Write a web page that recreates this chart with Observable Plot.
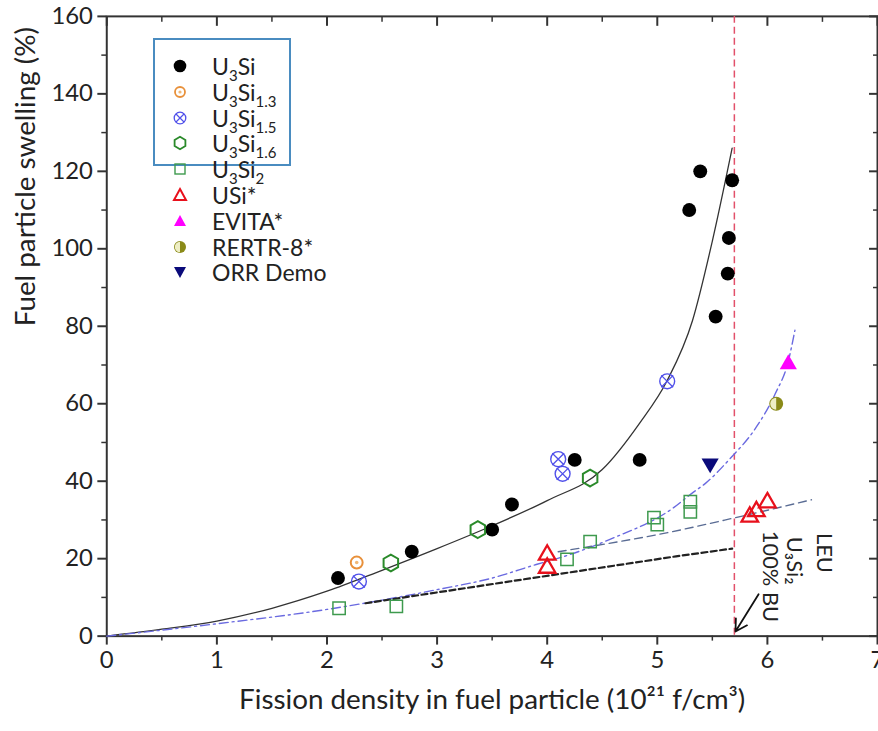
<!DOCTYPE html>
<html>
<head>
<meta charset="utf-8">
<script src="https://cdn.jsdelivr.net/npm/d3@7"></script>
<script src="https://cdn.jsdelivr.net/npm/@observablehq/plot@0.6"></script>
<style>
  html, body { margin: 0; padding: 0; overflow: hidden; background: #fff; }
  #wrap { position: relative; width: 878px; height: 731px; overflow: hidden; font-family: Lato, "Open Sans", sans-serif; }
  #legbox { position: absolute; left: 153px; top: 38px; width: 134px; height: 124px; border: 2px solid #4a8cc0; }
  .leg { position: absolute; left: 170px; height: 26px; display: flex; align-items: center; font-size: 23px; color: #222; white-space: nowrap; }
  .leg svg { width: 20px; height: 20px; margin-right: 22px; }
  .leg sub { font-size: 15px; vertical-align: -6px; line-height: 0; }
</style>
</head>
<body>
<div id="wrap"></div>
<script>
// ---- data ----
const u3si   = [[2.1,15],[2.77,21.8],[3.5,27.5],[3.68,34],[4.25,45.5],[4.84,45.5],[5.53,82.5],[5.64,93.6],[5.65,102.8],[5.29,110],[5.39,120],[5.68,117.7]];
const u3si13 = [[2.27,19]];
const u3si15 = [[2.29,14.1],[4.1,45.7],[4.14,41.9],[5.09,65.8]];
const u3si16 = [[2.58,18.9],[3.37,27.5],[4.39,40.8]];
const u3si2  = [[2.11,7.2],[2.63,7.7],[4.18,19.8],[4.39,24.4],[4.97,30.6],[5.0,28.8],[5.3,34.7],[5.3,32.1]];
const usi    = [[4.0,21],[4.0,17.6],[5.84,30.8],[5.9,32.2],[6.0,34.5]];
const evita  = [[6.19,70.2]];
const rertr8 = [[6.08,60]];
const orr    = [[5.48,44.6]];

const fitU3Si  = [[0,0],[0.5,1.8],[1,3.9],[1.5,7.2],[2,11.6],[2.5,17],[3,22.6],[3.5,28.5],[4,35],[4.5,43],[4.84,55],[5.09,66],[5.32,81.5],[5.5,102],[5.68,126]];
const fitDashDot = [[0,0],[1,3.2],[2,6.9],[2.5,9.3],[3,12],[3.5,15],[3.9,18.5],[4.2,21],[4.57,25],[5.14,33],[5.32,37],[5.44,39.5],[5.65,45.5],[5.9,54],[6.07,62.5],[6.19,71],[6.25,79]];
const fitBlackDash = [[2.35,8.5],[5.17,20.6],[5.68,22.6]];
const fitGrayDash = [[4.1,21.8],[5.14,27],[5.68,30.4],[6.4,35.2]];
const leuLimit = [5.7];
const arrowLine = [{x1:5.92, y1:10.8, x2:5.71, y2:1.2}];
const annotations = [
  {x:6.51, y:21.5, text:"LEU"},
  {x:6.24, y:19.5, text:"U₃Si₂"},
  {x:6.02, y:15.4, text:"100% BU"}
];

const xTicks = [0,1,2,3,4,5,6,7];
const xMinor = [0.5,1.5,2.5,3.5,4.5,5.5,6.5];
const yTicks = [0,20,40,60,80,100,120,140,160];
const yMinor = [10,30,50,70,90,110,130,150];
const xLabel = "Fission density in fuel particle (10²¹ f/cm³)";
const yLabel = "Fuel particle swelling (%)";

// ---- chart ----
const X = d => d[0], Y = d => d[1];
const leftHalf = {
  draw(ctx, size) {
    const r = Math.sqrt(size / Math.PI);
    ctx.moveTo(0, -r);
    ctx.arc(0, 0, r, -Math.PI / 2, Math.PI / 2, true);
    ctx.closePath();
  }
};
const axisColor = "#333";
const noText = () => "";

const chart = Plot.plot({
  width: 884,
  height: 731,
  marginLeft: 107,
  marginRight: 1,
  marginTop: 16,
  marginBottom: 91,
  style: { fontFamily: "Lato, 'Open Sans', sans-serif", fontSize: "24px", color: "#222", background: "white" },
  x: { domain: [0, 7] },
  y: { domain: [0, 160] },
  marks: [
    Plot.frame({ stroke: axisColor, strokeWidth: 2 }),
    Plot.axisX({ anchor: "bottom", ticks: xTicks, tickSize: 9, tickPadding: 6, tickFormat: d => d, label: null, stroke: axisColor, strokeWidth: 2, fontSize: 24 }),
    Plot.axisX({ anchor: "bottom", ticks: xMinor, tickSize: 5, tickFormat: noText, label: null, stroke: axisColor, strokeWidth: 1.5 }),
    Plot.axisX({ anchor: "top", ticks: xTicks, tickSize: -9, tickFormat: noText, label: null, stroke: axisColor, strokeWidth: 2 }),
    Plot.axisX({ anchor: "top", ticks: xMinor, tickSize: -5, tickFormat: noText, label: null, stroke: axisColor, strokeWidth: 1.5 }),
    Plot.axisY({ anchor: "left", ticks: yTicks, tickSize: 9, tickPadding: 5, tickFormat: d => d, label: null, stroke: axisColor, strokeWidth: 2, fontSize: 24 }),
    Plot.axisY({ anchor: "left", ticks: yMinor, tickSize: 5, tickFormat: noText, label: null, stroke: axisColor, strokeWidth: 1.5 }),
    Plot.axisY({ anchor: "right", ticks: yTicks, tickSize: -9, tickFormat: noText, label: null, stroke: axisColor, strokeWidth: 2 }),
    Plot.axisY({ anchor: "right", ticks: yMinor, tickSize: -5, tickFormat: noText, label: null, stroke: axisColor, strokeWidth: 1.5 }),
    Plot.text([xLabel], { frameAnchor: "bottom", dy: 73, fontSize: 28, fill: "#222" }),
    Plot.text([yLabel], { frameAnchor: "left", dx: -81, rotate: -90, fontSize: 28, fill: "#222" }),

    // fitted/guide lines
    Plot.ruleX(leuLimit, { stroke: "#e2506a", strokeWidth: 1.5, strokeDasharray: "7,4" }),
    Plot.line(fitU3Si, { x: X, y: Y, curve: "monotone-x", stroke: "#333", strokeWidth: 1.3 }),
    Plot.line(fitDashDot, { x: X, y: Y, curve: "monotone-x", stroke: "#6a6ae0", strokeWidth: 1.4, strokeDasharray: "9,4,2,4" }),
    Plot.line(fitBlackDash, { x: X, y: Y, stroke: "#222", strokeWidth: 2.2, strokeDasharray: "6,3.5" }),
    Plot.line(fitGrayDash, { x: X, y: Y, curve: "monotone-x", stroke: "#5a6c94", strokeWidth: 1.4, strokeDasharray: "8,5" }),

    // data points
    Plot.dot(u3si2, { x: X, y: Y, symbol: "square", r: 7, stroke: "#3e9a4e", strokeWidth: 1.5, fill: "none" }),
    Plot.dot(u3si, { x: X, y: Y, r: 7, fill: "black", stroke: "none" }),
    Plot.dot(u3si13, { x: X, y: Y, r: 6, stroke: "#e8903a", strokeWidth: 2, fill: "white" }),
    Plot.dot(u3si13, { x: X, y: Y, r: 1.8, fill: "#f0b878", stroke: "none" }),
    Plot.dot(u3si15, { x: X, y: Y, r: 7.5, stroke: "#5050ea", strokeWidth: 1.4, fill: "none" }),
    Plot.dot(u3si15, { x: X, y: Y, symbol: "times", r: 5.5, stroke: "#5050ea", strokeWidth: 1.3 }),
    Plot.dot(u3si16, { x: X, y: Y, symbol: "hexagon", r: 7.3, stroke: "#2a8a2a", strokeWidth: 2, fill: "none" }),
    Plot.dot(usi, { x: X, y: Y, symbol: "triangle", r: 6.2, stroke: "#e8101c", strokeWidth: 2.3, fill: "none" }),
    Plot.dot(evita, { x: X, y: Y, symbol: "triangle", r: 6.4, fill: "#ff00ff", stroke: "none" }),
    Plot.dot(rertr8, { x: X, y: Y, r: 7, fill: "#8a8a18", stroke: "none" }),
    Plot.dot(rertr8, { x: X, y: Y, symbol: leftHalf, r: 6, fill: "#eeeec4", stroke: "none" }),
    Plot.dot(orr, { x: X, y: Y, symbol: "triangle", rotate: 180, r: 6.4, fill: "#0a0a7a", stroke: "none" }),

    // annotation
    Plot.arrow(arrowLine, { x1: "x1", y1: "y1", x2: "x2", y2: "y2", stroke: "#111", strokeWidth: 1.8, headLength: 11 }),
    Plot.text(annotations, { x: "x", y: "y", text: "text", rotate: 90, fontSize: 22, fill: "#222" })
  ]
});

const wrap = document.getElementById("wrap");
wrap.appendChild(chart);

// ---- legend (HTML overlay) ----
const legendItems = [
  { label: "U<sub>3</sub>Si", icon: '<circle cx="10" cy="10" r="6.3" fill="black"/>' },
  { label: "U<sub>3</sub>Si<sub>1.3</sub>", icon: '<circle cx="10" cy="10" r="5" fill="white" stroke="#e8903a" stroke-width="1.8"/><circle cx="10" cy="10" r="1.6" fill="#f0b878"/>' },
  { label: "U<sub>3</sub>Si<sub>1.5</sub>", icon: '<circle cx="10" cy="10" r="5.8" fill="none" stroke="#5050ea" stroke-width="1.3"/><path d="M6,6L14,14M14,6L6,14" stroke="#5050ea" stroke-width="1.2"/>' },
  { label: "U<sub>3</sub>Si<sub>1.6</sub>", icon: '<polygon points="10,3.8 15.4,6.9 15.4,13.1 10,16.2 4.6,13.1 4.6,6.9" fill="none" stroke="#2a8a2a" stroke-width="1.8"/>' },
  { label: "U<sub>3</sub>Si<sub>2</sub>", icon: '<rect x="5" y="5" width="10" height="10" fill="none" stroke="#3e9a4e" stroke-width="1.4"/>' },
  { label: "USi*", icon: '<polygon points="10,4 16,15 4,15" fill="none" stroke="#e8101c" stroke-width="2"/>' },
  { label: "EVITA*", icon: '<polygon points="10,4 16,15 4,15" fill="#ff00ff"/>' },
  { label: "RERTR-8*", icon: '<circle cx="10" cy="10" r="6" fill="#8a8a18"/><path d="M10,4.8A5.2,5.2 0 0 0 10,15.2Z" fill="#eeeec4"/>' },
  { label: "ORR Demo", icon: '<polygon points="4,5 16,5 10,16" fill="#0a0a7a"/>' }
];
const box = document.createElement("div");
box.id = "legbox";
wrap.appendChild(box);
legendItems.forEach((it, i) => {
  const row = document.createElement("div");
  row.className = "leg";
  row.style.top = (53 + i * 25.8) + "px";
  row.innerHTML = '<svg viewBox="0 0 20 20">' + it.icon + '</svg><span>' + it.label + '</span>';
  wrap.appendChild(row);
});
</script>
</body>
</html>
